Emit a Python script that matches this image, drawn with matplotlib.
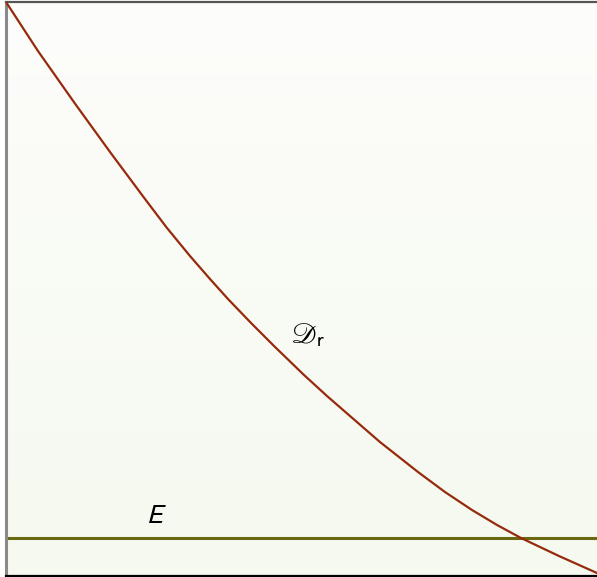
import numpy as np
import matplotlib
matplotlib.use("Agg")
from matplotlib import pyplot as plt

plt.rcParams['mathtext.fontset'] = 'stixsans'

# sampled points of the D_r curve
curve_x = [0.0, 0.541, 1.184, 1.760, 2.352, 2.724, 3.113, 3.452, 3.756, 4.146, 4.535,
           5.042, 5.431, 5.821, 6.328, 6.971, 7.428, 7.885, 8.308, 8.714, 9.357, 10.0]
curve_y = [10.0, 9.146, 8.206, 7.387, 6.568, 6.063, 5.575, 5.174, 4.826, 4.408, 4.007,
           3.502, 3.136, 2.787, 2.334, 1.812, 1.463, 1.150, 0.889, 0.662, 0.348, 0.052]

# level of the horizontal line E
level_e = 0.662

fig = plt.figure(figsize=(5.97, 5.77), dpi=100)
ax = fig.add_axes([6 / 597, 1 / 577, 591 / 597, 574 / 577])

# soft vertical background: near white on top, pale green at bottom
top = np.array([253, 253, 251]) / 255
bottom = np.array([245, 249, 239]) / 255
t = np.linspace(0, 1, 256)[:, None]
grad = top * (1 - t) + bottom * t
ax.imshow(grad[:, None, :], extent=[0, 1, 0, 1], transform=ax.transAxes,
          aspect='auto', zorder=0, interpolation='bilinear')

ax.plot(curve_x, curve_y, color='#962a0c', lw=1.6, zorder=3,
        solid_joinstyle='round')
ax.axhline(level_e, color='#6b6812', lw=2.2, zorder=2)

ax.text(5.11, 4.20, r'$\mathscr{D}_{\mathrm{r}}$', fontsize=21,
        ha='center', va='center')
ax.text(2.55, 1.06, '$E$', fontsize=20, ha='center', va='center')

ax.set_xlim(0, 10)
ax.set_ylim(0, 10)
ax.set_xticks([])
ax.set_yticks([])

ax.spines['right'].set_visible(False)
ax.spines['left'].set_color('#8a8a8a')
ax.spines['left'].set_linewidth(2.2)
ax.spines['top'].set_color('#555555')
ax.spines['top'].set_linewidth(1.6)
ax.spines['bottom'].set_color('black')
ax.spines['bottom'].set_linewidth(1.6)

fig.savefig('out.png', dpi=100)
